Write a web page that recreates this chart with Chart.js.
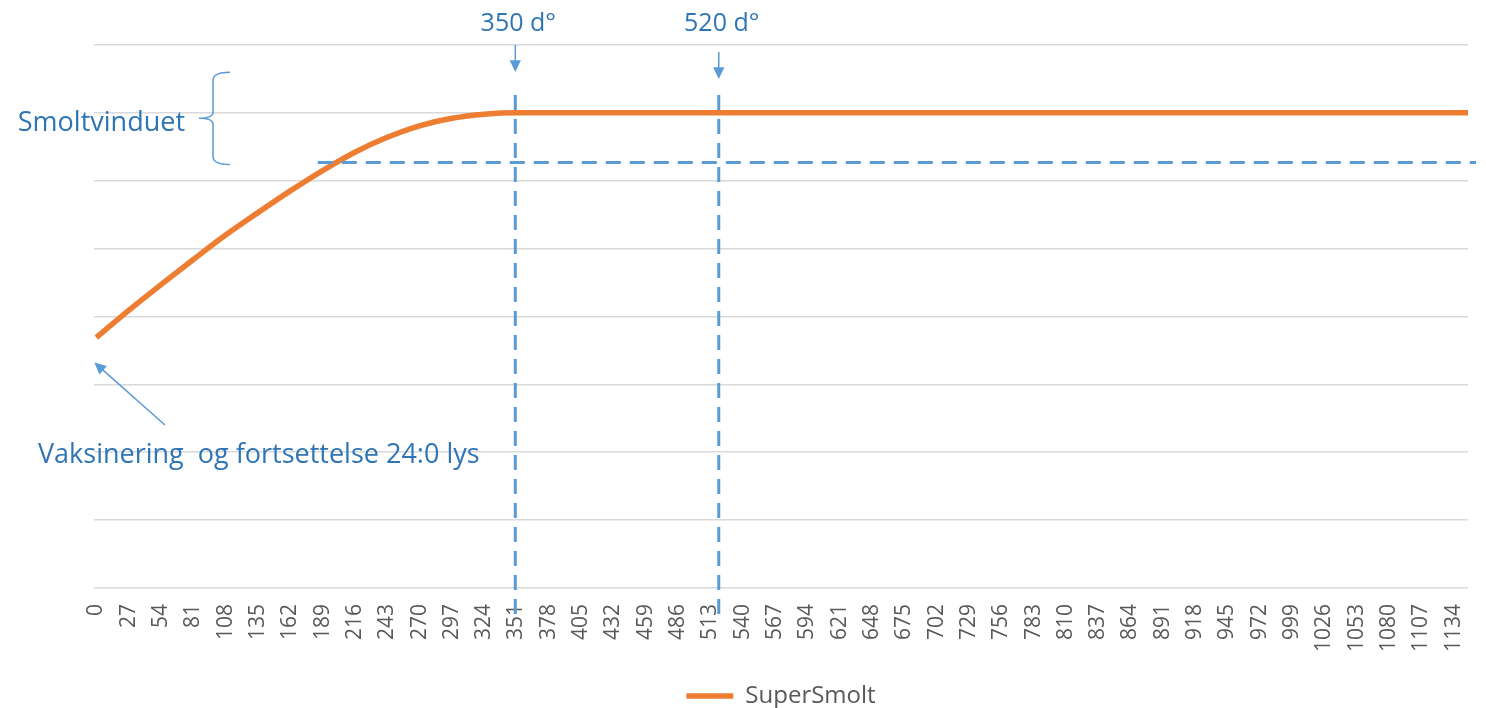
<!DOCTYPE html>
<html>
<head>
<meta charset="utf-8">
<script src="https://cdn.jsdelivr.net/npm/chart.js@4/dist/chart.umd.min.js"></script>
<style>
  html, body { margin: 0; padding: 0; background: #fff; overflow: hidden; }
  #wrap { width: 1486px; height: 708px; overflow: hidden; }
</style>
</head>
<body>
<div id="wrap"><canvas id="chart" width="1486" height="718"></canvas></div>
<script>
// day-degrees along the x axis and the SuperSmolt curve
const days = [0, 27, 54, 81, 108, 135, 162, 189, 216, 243, 270, 297, 324, 351, 1146];
const superSmolt = [3.69, 4.09, 4.47, 4.84, 5.20, 5.53, 5.85, 6.15, 6.42, 6.64, 6.81, 6.92, 6.98, 7.0, 7.0];

// tick labels on the x axis
const xTickLabels = [0, 27, 54, 81, 108, 135, 162, 189, 216, 243, 270, 297, 324, 351, 378, 405, 432,
  459, 486, 513, 540, 567, 594, 621, 648, 675, 702, 729, 756, 783, 810, 837, 864, 891, 918, 945,
  972, 999, 1026, 1053, 1080, 1107, 1134];

// markers: vertical lines (d°), smolt window threshold and top
const markerDays = [350, 520];
const markerLabels = ['350 d°', '520 d°'];
const thresholdStartDay = 185;
const smoltThreshold = 6.27;
const smoltWindowTop = 7.6;

const blue = '#5B9BD5';
const textBlue = '#2E75B6';
const font = '"Open Sans", sans-serif';

function arrow(ctx, x1, y1, x2, y2, head) {
  const a = Math.atan2(y2 - y1, x2 - x1);
  ctx.beginPath();
  ctx.moveTo(x1, y1);
  ctx.lineTo(x2 - Math.cos(a) * head * 0.8, y2 - Math.sin(a) * head * 0.8);
  ctx.stroke();
  ctx.beginPath();
  ctx.moveTo(x2, y2);
  ctx.lineTo(x2 - head * Math.cos(a - 0.45), y2 - head * Math.sin(a - 0.45));
  ctx.lineTo(x2 - head * Math.cos(a + 0.45), y2 - head * Math.sin(a + 0.45));
  ctx.closePath();
  ctx.fill();
}

const annotations = {
  id: 'annotations',
  afterDatasetsDraw(chart) {
    const ctx = chart.ctx;
    const xs = chart.scales.x, ys = chart.scales.y;
    const area = chart.chartArea;
    ctx.save();
    ctx.strokeStyle = blue;
    ctx.fillStyle = blue;

    // dashed threshold line
    const yT = ys.getPixelForValue(smoltThreshold);
    ctx.lineWidth = 3;
    ctx.setLineDash([15, 9]);
    ctx.beginPath();
    ctx.moveTo(xs.getPixelForValue(thresholdStartDay), yT);
    ctx.lineTo(area.right + 8, yT);
    ctx.stroke();

    // dashed vertical markers
    markerDays.forEach((d, i) => {
      const x = xs.getPixelForValue(d);
      ctx.setLineDash([15, 9]);
      ctx.lineWidth = 3;
      ctx.beginPath();
      ctx.moveTo(x, area.top + 50);
      ctx.lineTo(x, area.bottom + 34);
      ctx.stroke();
      ctx.setLineDash([]);
      ctx.lineWidth = 1.5;
      const off = i * 7;
      arrow(ctx, x, area.top + 0 + off, x, area.top + 27 + off, 13);
      ctx.fillStyle = textBlue;
      ctx.font = '25px ' + font;
      ctx.textAlign = 'center';
      ctx.textBaseline = 'alphabetic';
      ctx.fillText(markerLabels[i], x + 3, 31);
      ctx.fillStyle = blue;
    });

    // brace for the smolt window
    ctx.setLineDash([]);
    ctx.lineWidth = 1.5;
    const yTop = ys.getPixelForValue(smoltWindowTop);
    const yBot = yT + 2;
    const yMid = (yTop + yBot) / 2;
    const bx = 213;
    ctx.beginPath();
    ctx.moveTo(bx + 17, yTop);
    ctx.quadraticCurveTo(bx, yTop, bx, yTop + 8);
    ctx.lineTo(bx, yMid - 6);
    ctx.quadraticCurveTo(bx, yMid, bx - 14, yMid);
    ctx.quadraticCurveTo(bx, yMid, bx, yMid + 6);
    ctx.lineTo(bx, yBot - 8);
    ctx.quadraticCurveTo(bx, yBot, bx + 17, yBot);
    ctx.stroke();

    ctx.fillStyle = textBlue;
    ctx.font = '27px ' + font;
    ctx.textAlign = 'right';
    ctx.textBaseline = 'middle';
    ctx.fillText('Smoltvinduet', 185, yMid + 5);

    // vaccination arrow and note
    const x0 = xs.getPixelForValue(days[0]);
    const y0 = ys.getPixelForValue(superSmolt[0]);
    ctx.fillStyle = blue;
    ctx.lineWidth = 1.5;
    arrow(ctx, 165, 425, x0 - 2, y0 + 25, 13);
    ctx.fillStyle = textBlue;
    ctx.font = '27px ' + font;
    ctx.textAlign = 'left';
    ctx.textBaseline = 'alphabetic';
    ctx.fillText('Vaksinering  og fortsettelse 24:0 lys', 38, 463);
    ctx.restore();
  }
};

new Chart(document.getElementById('chart').getContext('2d'), {
  type: 'line',
  data: {
    datasets: [{
      label: 'SuperSmolt',
      data: days.map((d, i) => ({ x: d, y: superSmolt[i] })),
      borderColor: '#ED7D31',
      backgroundColor: '#ED7D31',
      borderWidth: 5.5,
      pointRadius: 0,
      pointStyle: 'line',
      cubicInterpolationMode: 'monotone',
      fill: false
    }]
  },
  options: {
    responsive: false,
    animation: false,
    layout: { padding: { left: 94, right: 18, top: 45, bottom: 0 } },
    scales: {
      x: {
        type: 'linear',
        min: -2,
        max: 1146,
        grid: { display: false, drawTicks: false },
        border: { display: false },
        afterBuildTicks: axis => { axis.ticks = xTickLabels.map(v => ({ value: v })); },
        afterFit: axis => { axis.paddingLeft = 0; axis.paddingRight = 0; },
        ticks: {
          autoSkip: false,
          minRotation: 90,
          maxRotation: 90,
          padding: 16,
          color: '#595959',
          font: { family: 'Open Sans', size: 21 },
          callback: v => String(v)
        }
      },
      y: {
        min: 0,
        max: 8,
        grid: { color: '#d9d9d9', lineWidth: 1.5, drawTicks: false },
        border: { display: false },
        ticks: { display: false, stepSize: 1 }
      }
    },
    plugins: {
      tooltip: { enabled: false },
      legend: {
        position: 'bottom',
        labels: {
          usePointStyle: true,
          pointStyleWidth: 47,
          padding: 16,
          color: '#595959',
          font: { family: 'Open Sans', size: 24 }
        }
      }
    }
  },
  plugins: [annotations]
});
</script>
</body>
</html>
